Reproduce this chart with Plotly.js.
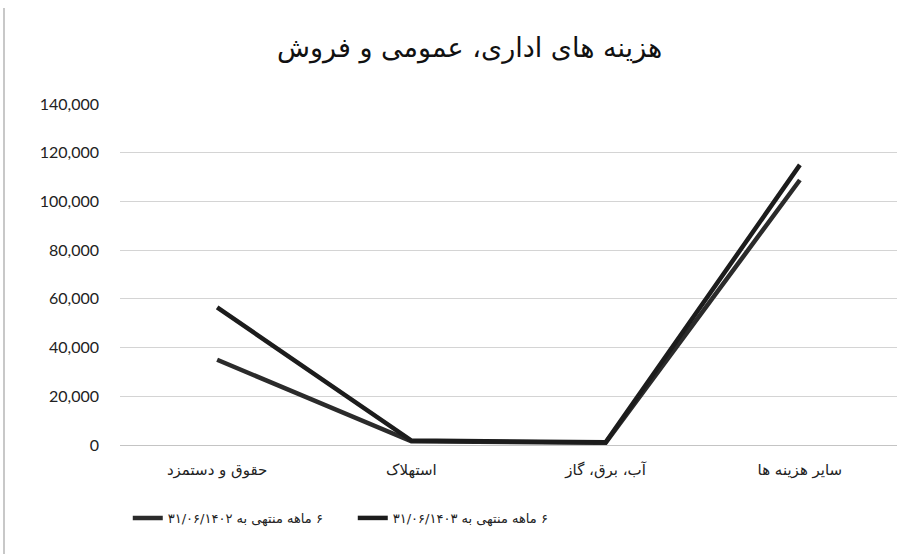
<!DOCTYPE html>
<html>
<head>
<meta charset="utf-8">
<script src="https://cdn.plot.ly/plotly-3.0.1.min.js"></script>
<style>
  html, body { margin: 0; padding: 0; background: #fff; }
  #wrap { position: relative; width: 912px; height: 554px; }
  #edge { position: absolute; left: 3px; top: 8px; width: 2px; height: 546px; background: #c8c8c8; }
  #chart { width: 912px; height: 554px; }
</style>
</head>
<body>
<div id="wrap"><div id="chart"></div><div id="edge"></div></div>
<script>
const categories = ["حقوق و دستمزد", "استهلاک", "آب، برق، گاز", "سایر هزینه ها"];
const series1402Name = "\u200F۶ ماهه منتهی به ۳۱/۰۶/۱۴۰۲";
const series1403Name = "\u200F۶ ماهه منتهی به ۳۱/۰۶/۱۴۰۳";
const values1402 = [35000, 1500, 900, 108800];
const values1403 = [56500, 1800, 1100, 115000];
const yTickVals = [0, 20000, 40000, 60000, 80000, 100000, 120000, 140000];
const yTickText = ["0", "20,000", "40,000", "60,000", "80,000", "100,000", "120,000", "140,000"];
const chartTitle = "هزینه های اداری، عمومی و فروش";

const traces = [
  { x: categories, y: values1402, name: series1402Name, type: "scatter", mode: "lines",
    line: { color: "#2b2b2b", width: 4.5 } },
  { x: categories, y: values1403, name: series1403Name, type: "scatter", mode: "lines",
    line: { color: "#1c1c1c", width: 4.5 } }
];

const layout = {
  width: 912, height: 554,
  margin: { l: 120, r: 15, t: 104, b: 109 },
  paper_bgcolor: "#ffffff", plot_bgcolor: "#ffffff",
  title: { text: chartTitle, x: 0.515, xanchor: "center", y: 0.915, yanchor: "middle",
           font: { family: "DejaVu Sans, Arial, sans-serif", size: 27, color: "#111" } },
  xaxis: { type: "category", range: [-0.5, 3.5], showgrid: false, zeroline: false, showline: false, ticks: "",
           ticklabelstandoff: 14,
           tickfont: { family: "DejaVu Sans, sans-serif", size: 15, color: "#222" } },
  yaxis: { range: [0, 140000], tickvals: yTickVals, ticktext: yTickText,
           showgrid: true, gridcolor: "#d4d4d4", gridwidth: 1, zeroline: true, zerolinecolor: "#c4c4c4",
           showline: false, ticks: "", ticklabelstandoff: 20,
           tickfont: { family: "Lato, Carlito, sans-serif", size: 16, color: "#222" } },
  showlegend: true,
  legend: { orientation: "h", x: 0.01, xanchor: "left", y: -0.214, yanchor: "middle",
            font: { family: "DejaVu Sans, sans-serif", size: 13, color: "#222" },
            entrywidth: 180, entrywidthmode: "pixels", bgcolor: "rgba(0,0,0,0)" }
};

Plotly.newPlot("chart", traces, layout, { displayModeBar: false, staticPlot: true });
</script>
</body>
</html>
